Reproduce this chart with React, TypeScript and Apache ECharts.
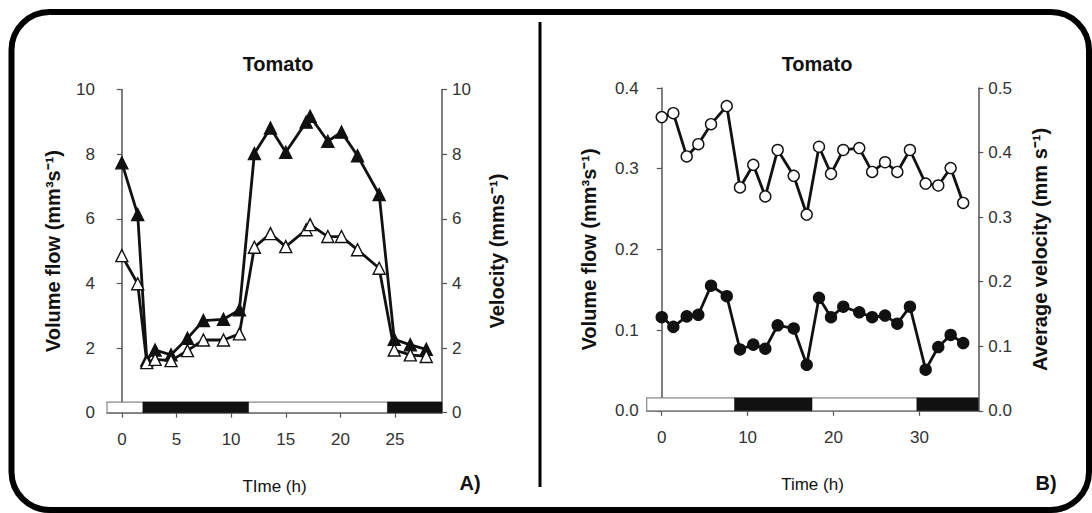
import React, { useEffect, useRef } from "react";
import * as echarts from "echarts";

// ---- Panel A: hourly sap flow in tomato (triangles) ----
const hoursA = [0, 1.45, 2.28, 3.04, 4.5, 6.0, 7.46, 9.3, 10.76, 12.13, 13.6, 15.0, 16.87, 17.23, 18.85, 20.1, 21.57, 23.55, 24.93, 26.4, 27.86];
const volumeFlowA = [7.73, 6.13, 1.63, 1.94, 1.79, 2.3, 2.85, 2.89, 3.18, 8.02, 8.81, 8.06, 8.99, 9.17, 8.4, 8.68, 7.95, 6.75, 2.27, 2.1, 1.96];
const velocityA = [4.86, 3.99, 1.55, 1.65, 1.61, 1.92, 2.25, 2.25, 2.44, 5.12, 5.54, 5.14, 5.66, 5.82, 5.45, 5.45, 5.04, 4.47, 1.94, 1.79, 1.74];
const darkPeriodsA = [[1.92, 11.6], [24.3, 29.3]];
const ticksA = [0, 5, 10, 15, 20, 25];

// ---- Panel B: volume flow and average velocity (circles) ----
const hoursB = [0, 1.35, 2.91, 4.26, 5.74, 7.57, 9.11, 10.66, 12.06, 13.5, 15.37, 16.88, 18.31, 19.71, 21.14, 23.0, 24.5, 26.0, 27.43, 28.9, 30.73, 32.2, 33.64, 35.1];
const volumeFlowB = [0.116, 0.104, 0.117, 0.119, 0.155, 0.142, 0.076, 0.082, 0.077, 0.106, 0.102, 0.057, 0.14, 0.116, 0.129, 0.122, 0.116, 0.118, 0.108, 0.129, 0.051, 0.079, 0.094, 0.084];
const velocityB = [0.455, 0.461, 0.394, 0.413, 0.444, 0.472, 0.346, 0.381, 0.332, 0.404, 0.364, 0.304, 0.409, 0.367, 0.404, 0.407, 0.37, 0.385, 0.37, 0.404, 0.352, 0.349, 0.376, 0.322];
const darkPeriodsB = [[8.47, 17.5], [29.7, 36.86]];
const ticksB = [0, 10, 20, 30];

const FONT = "'Liberation Sans', Arial, Helvetica, sans-serif";
const INK = "#111";
const AXIS = "#555";
const LABEL = "#333";

function lightStrip(xMin: number, xMax: number, height: number, dark: number[][], xi: number, yi: number) {
  const items = [[xMin, xMax, 0], ...dark.map((d) => [d[0], d[1], 1])];
  return {
    type: "custom",
    xAxisIndex: xi,
    yAxisIndex: yi,
    silent: true,
    z: 1,
    data: items,
    renderItem: (_params: any, api: any) => {
      const a = api.coord([api.value(0), height]);
      const b = api.coord([api.value(1), 0]);
      const isDark = api.value(2) === 1;
      return {
        type: "rect",
        shape: { x: a[0], y: a[1], width: b[0] - a[0], height: b[1] - a[1] },
        style: isDark
          ? { fill: "#111", stroke: "#111", lineWidth: 0.5 }
          : { fill: "#fff", stroke: "#888", lineWidth: 1.2 },
      };
    },
  };
}

function xAxisCfg(grid: number, min: number, max: number, ticks: number[], name: string) {
  return {
    type: "value",
    gridIndex: grid,
    min,
    max,
    name,
    nameLocation: "middle",
    nameGap: 65,
    nameTextStyle: { fontFamily: FONT, fontSize: 17, color: INK },
    axisLine: { show: true, lineStyle: { color: AXIS, width: 1.5 } },
    axisTick: { show: true, length: 5, customValues: ticks, lineStyle: { color: AXIS, width: 1.2 } },
    axisLabel: { customValues: ticks, margin: 18, fontFamily: FONT, fontSize: 17, color: LABEL },
    splitLine: { show: false },
  };
}

function yAxisCfg(grid: number, pos: string, max: number, interval: number, name: string, gap: number, margin: number, digits: number) {
  return {
    type: "value",
    gridIndex: grid,
    position: pos,
    min: 0,
    max,
    interval,
    name,
    nameLocation: "middle",
    nameGap: gap,
    nameTextStyle: { fontFamily: FONT, fontSize: 20, fontWeight: "bold", color: INK },
    axisLine: { show: true, lineStyle: { color: AXIS, width: 1.5 } },
    axisTick: { show: true, length: 5, lineStyle: { color: AXIS, width: 1.2 } },
    axisLabel: {
      margin,
      fontFamily: FONT,
      fontSize: 17,
      color: LABEL,
      formatter: (v: number) => v.toFixed(digits),
    },
    splitLine: { show: false },
  };
}

function pairs(xs: number[], ys: number[]) {
  return xs.map((x, i) => [x, ys[i]]);
}

function lineSeries(data: number[][], xi: number, yi: number, symbol: string, filled: boolean, size: number) {
  return {
    type: "line",
    xAxisIndex: xi,
    yAxisIndex: yi,
    data,
    symbol,
    symbolSize: size,
    showAllSymbol: true,
    z: filled ? 3 : 4,
    lineStyle: { color: INK, width: 2.8 },
    itemStyle: { color: filled ? INK : "#fff", borderColor: INK, borderWidth: 1.4 },
  };
}

export default function App() {
  const ref = useRef<HTMLDivElement>(null);

  useEffect(() => {
    if (!ref.current) return;
    const chart = echarts.init(ref.current, null, { renderer: "svg" });
    const minA = -1.36, maxA = 29.3;
    const minB = -1.75, maxB = 36.86;

    chart.setOption({
      animation: false,
      backgroundColor: "#fff",
      grid: [
        { left: 107, top: 89.5, width: 335, height: 323.2 },
        { left: 646.7, top: 88, width: 331.6, height: 322.8 },
      ],
      title: [
        { text: "Tomato", left: 273, top: 49, textAlign: "center", textStyle: { fontFamily: FONT, fontSize: 20, fontWeight: "bold", color: INK } },
        { text: "Tomato", left: 812, top: 49, textAlign: "center", textStyle: { fontFamily: FONT, fontSize: 20, fontWeight: "bold", color: INK } },
      ],
      xAxis: [
        xAxisCfg(0, minA, maxA, ticksA, "TIme (h)"),
        xAxisCfg(1, minB, maxB, ticksB, "Time (h)"),
      ],
      yAxis: [
        yAxisCfg(0, "left", 10, 2, "Volume flow (mm³s⁻¹)", 44, 12, 0),
        yAxisCfg(0, "right", 10, 2, "Velocity (mms⁻¹)", 45, 10, 0),
        yAxisCfg(1, "left", 0.4, 0.1, "Volume flow (mm³s⁻¹)", 48, 8, 1),
        yAxisCfg(1, "right", 0.5, 0.1, "Average velocity (mm s⁻¹)", 52, 10, 1),
      ],
      series: [
        lightStrip(minA, maxA, 0.33, darkPeriodsA, 0, 0),
        lightStrip(minB, maxB, 0.016, darkPeriodsB, 1, 2),
        lineSeries(pairs(hoursA, volumeFlowA), 0, 0, "triangle", true, 12),
        lineSeries(pairs(hoursA, velocityA), 0, 1, "triangle", false, 12),
        lineSeries(pairs(hoursB, volumeFlowB), 1, 2, "circle", true, 11),
        lineSeries(pairs(hoursB, velocityB), 1, 3, "circle", false, 11),
      ],
      graphic: [
        {
          type: "rect",
          shape: { x: 11.5, y: 12, width: 1077.5, height: 498, r: 38 },
          style: { fill: "none", stroke: "#000", lineWidth: 6 },
          silent: true,
        },
        {
          type: "line",
          shape: { x1: 540, y1: 22, x2: 540, y2: 487 },
          style: { stroke: "#000", lineWidth: 3 },
          silent: true,
        },
        {
          type: "text",
          x: 470,
          y: 483,
          style: { text: "A)", font: `bold 20px ${FONT}`, fill: INK, align: "center", verticalAlign: "middle" },
        },
        {
          type: "text",
          x: 1046,
          y: 483,
          style: { text: "B)", font: `bold 20px ${FONT}`, fill: INK, align: "center", verticalAlign: "middle" },
        },
      ],
    });

    return () => chart.dispose();
  }, []);

  return (
    <div
      ref={ref}
      style={{ position: "fixed", left: 0, top: 0, width: 1092, height: 513, background: "#fff" }}
    />
  );
}
